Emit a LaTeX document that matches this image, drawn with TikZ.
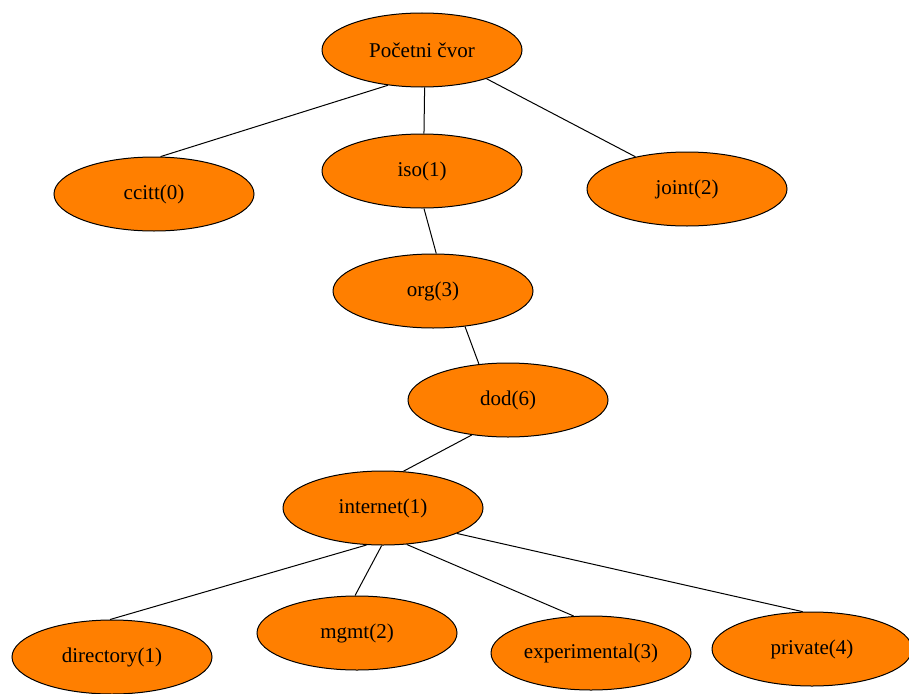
\documentclass[tikz,border=0pt]{standalone}
\usepackage{fontspec}
\setmainfont{Liberation Serif}
\usetikzlibrary{shapes.geometric}
\definecolor{nodeorange}{RGB}{255,127,0}
\tikzset{
  oid/.style={ellipse, draw=black, fill=nodeorange, line width=1pt,
    minimum width=200pt, minimum height=74pt, inner sep=0pt,
    font=\fontsize{21}{24}\selectfont},
  link/.style={draw=black, line width=1pt}
}
\begin{document}
\begin{tikzpicture}[x=1pt,y=-1pt]
\useasboundingbox[fill=white] (0,0) rectangle (909,693);
\node[oid] (root) at (422,50) {Početni čvor};
\node[oid] (ccitt) at (154,194) {ccitt(0)};
\node[oid] (iso) at (422,171) {iso(1)};
\node[oid] (joint) at (687,189) {joint(2)};
\node[oid] (org) at (433,291) {org(3)};
\node[oid] (dod) at (508,400) {dod(6)};
\node[oid] (internet) at (383,508) {internet(1)};
\node[oid] (directory) at (112,657) {directory(1)};
\node[oid] (mgmt) at (357,633) {mgmt(2)};
\node[oid] (experimental) at (591,653) {experimental(3)};
\node[oid] (private) at (812,649) {private(4)};
\draw[link] (root.226) -- (ccitt.80);
\draw[link] (root.274) -- (iso.87);
\draw[link] (root.336) -- (joint.148);
\draw[link] (iso.273) -- (org.85);
\draw[link] (org.312) -- (dod.129);
\draw[link] (dod.224) -- (internet.61);
\draw[link] (internet.246) -- (directory.93);
\draw[link] (internet.268) -- (mgmt.93);
\draw[link] (internet.303) -- (experimental.115);
\draw[link] (internet.341) -- (private.104);
\end{tikzpicture}
\end{document}
